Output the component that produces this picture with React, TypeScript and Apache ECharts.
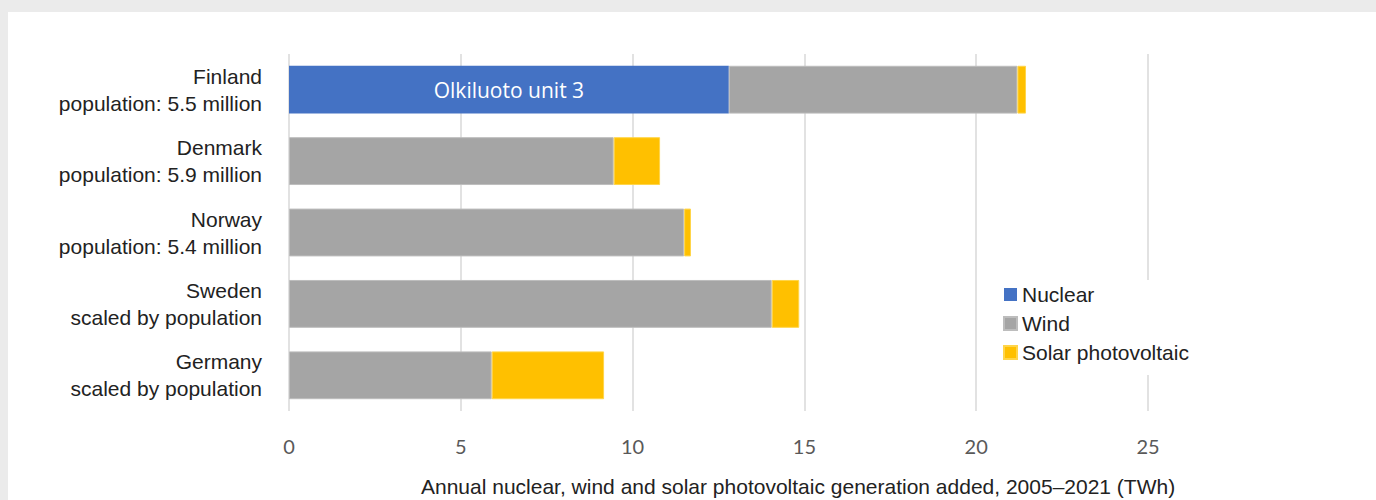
import React, { useEffect, useRef } from "react";
import * as echarts from "echarts";

const categories = [
  "Finland\npopulation: 5.5 million",
  "Denmark\npopulation: 5.9 million",
  "Norway\npopulation: 5.4 million",
  "Sweden\nscaled by population",
  "Germany\nscaled by population",
];
const nuclear = [12.8, 0, 0, 0, 0];
const wind = [8.4, 9.45, 11.5, 14.05, 5.9];
const solar = [0.25, 1.35, 0.2, 0.8, 3.27];
const nuclearLabels = ["Olkiluoto unit 3", "", "", "", ""];
const xTicks = [0, 5, 10, 15, 20, 25];
const axisTitle = "Annual nuclear, wind and solar photovoltaic generation added, 2005\u20132021 (TWh)";

export default function App() {
  const ref = useRef<HTMLDivElement>(null);
  useEffect(() => {
    document.body.style.margin = "0";
    const chart = echarts.init(ref.current!, null, { renderer: "svg" });
    const sans = "'Liberation Sans', Arial, sans-serif";
    chart.setOption({
      animation: false,
      backgroundColor: "#ebebeb",
      graphic: [
        { type: "rect", z: -10, silent: true, shape: { x: 8, y: 12, width: 1368, height: 488 }, style: { fill: "#ffffff" } },
        {
          type: "text",
          left: 421,
          top: 476,
          style: { text: axisTitle, fill: "#222222", font: `21px ${sans}` },
        },
      ],
      grid: { left: 289, right: 228, top: 54, height: 357, containLabel: false },
      legend: {
        orient: "vertical",
        left: 993,
        top: 280,
        itemWidth: 13,
        itemHeight: 13,
        itemGap: 8,
        itemTextGap: 7,
        padding: [4, 10, 12, 10],
        backgroundColor: "#ffffff",
        icon: "rect",
        textStyle: { fontFamily: sans, fontSize: 21, color: "#222222" },
        data: ["Nuclear", "Wind", "Solar photovoltaic"],
      },
      xAxis: {
        type: "value",
        min: xTicks[0],
        max: xTicks[xTicks.length - 1],
        interval: 5,
        axisLine: { show: false },
        axisTick: { show: false },
        axisLabel: { margin: 25, color: "#595959", fontFamily: "Lato, 'Open Sans', sans-serif", fontSize: 20 },
        splitLine: { show: true, lineStyle: { color: "#d9d9d9", width: 1.5 } },
      },
      yAxis: {
        type: "category",
        inverse: true,
        data: categories,
        axisLine: { show: false },
        axisTick: { show: false },
        axisLabel: { margin: 27, color: "#222222", fontFamily: sans, fontSize: 21, lineHeight: 27, align: "right" },
      },
      series: [
        {
          name: "Nuclear",
          type: "bar",
          stack: "total",
          barCategoryGap: "33%",
          itemStyle: { color: "#4472c4" },
          label: {
            show: true,
            position: "inside",
            color: "#ffffff",
            fontFamily: "'Open Sans', Lato, sans-serif",
            fontSize: 21,
            formatter: (p: any) => nuclearLabels[p.dataIndex],
          },
          data: nuclear,
        },
        {
          name: "Wind",
          type: "bar",
          stack: "total",
          itemStyle: { color: "#a5a5a5", borderColor: "#bdbdbd", borderWidth: 1 },
          data: wind,
        },
        {
          name: "Solar photovoltaic",
          type: "bar",
          stack: "total",
          itemStyle: { color: "#ffc000", borderColor: "#ffd54a", borderWidth: 1 },
          data: solar,
        },
      ],
    });
    return () => chart.dispose();
  }, []);
  return <div ref={ref} style={{ position: "fixed", left: 0, top: 0, width: 1376, height: 500 }} />;
}
